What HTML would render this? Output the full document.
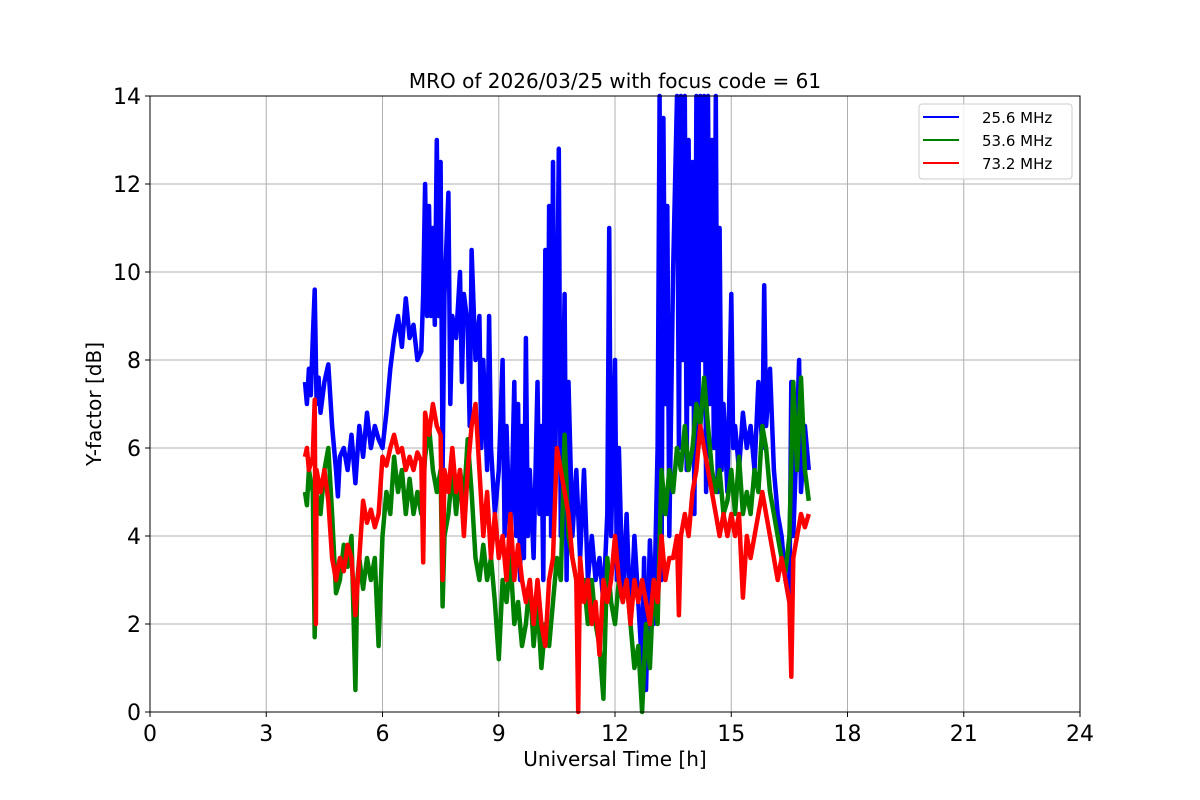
<!DOCTYPE html>
<html><head><meta charset="utf-8"><style>
body{margin:0;background:#fff}
svg{display:block;font-family:"DejaVu Sans","Liberation Sans",sans-serif}
</style></head><body>
<svg id="chart" width="1200" height="800">
<rect width="1200" height="800" fill="#fff"/>
<g id="grid"></g>
<g id="series"></g>
<rect x="150" y="96" width="930" height="616" fill="none" stroke="#000" stroke-width="1"/>
<g id="ticks"></g>
<text x="615" y="88" font-size="20" text-anchor="middle">MRO of 2026/03/25 with focus code = 61</text>
<text x="615" y="766" font-size="20" text-anchor="middle">Universal Time [h]</text>
<text x="101" y="404" font-size="20" text-anchor="middle" transform="rotate(-90 101 404)">Y-factor [dB]</text>
<g>
<rect x="919" y="104" width="153" height="75" rx="3" fill="#fff" fill-opacity="0.8" stroke="#ccc"/>
<line x1="923" y1="117" x2="959" y2="117" stroke="#0000ff" stroke-width="2"/>
<text x="982" y="123" font-size="15">25.6 MHz</text>
<line x1="923" y1="140" x2="959" y2="140" stroke="#008000" stroke-width="2"/>
<text x="982" y="146" font-size="15">53.6 MHz</text>
<line x1="923" y1="163" x2="959" y2="163" stroke="#ff0000" stroke-width="2"/>
<text x="982" y="169" font-size="15">73.2 MHz</text>
</g>
</svg>
<script>
const xTicks=[0,3,6,9,12,15,18,21,24];
const yTicks=[0,2,4,6,8,10,12,14];
const blueT=[4.0,4.05,4.1,4.15,4.2,4.25,4.3,4.35,4.4,4.5,4.6,4.7,4.8,4.85,4.9,5.0,5.1,5.2,5.3,5.4,5.5,5.6,5.7,5.8,5.9,6.0,6.1,6.2,6.3,6.4,6.5,6.6,6.7,6.8,6.9,7.0,7.05,7.1,7.15,7.2,7.25,7.3,7.35,7.4,7.45,7.5,7.55,7.6,7.7,7.75,7.8,7.9,8.0,8.05,8.1,8.2,8.25,8.3,8.4,8.5,8.55,8.6,8.7,8.75,8.8,8.9,9.0,9.1,9.15,9.2,9.3,9.4,9.45,9.5,9.55,9.6,9.65,9.7,9.75,9.8,9.9,10.0,10.05,10.1,10.15,10.2,10.25,10.3,10.35,10.4,10.45,10.5,10.55,10.6,10.7,10.75,10.8,10.9,11.0,11.1,11.2,11.3,11.4,11.5,11.6,11.7,11.8,11.85,11.9,12.0,12.05,12.1,12.2,12.3,12.4,12.5,12.6,12.7,12.75,12.8,12.9,13.0,13.1,13.15,13.2,13.25,13.3,13.35,13.4,13.5,13.6,13.65,13.7,13.75,13.8,13.85,13.9,13.95,14.0,14.05,14.1,14.15,14.2,14.25,14.3,14.35,14.4,14.45,14.5,14.55,14.6,14.65,14.7,14.75,14.8,14.9,15.0,15.05,15.1,15.2,15.3,15.4,15.5,15.6,15.7,15.8,15.85,15.9,16.0,16.1,16.2,16.3,16.4,16.5,16.55,16.6,16.7,16.75,16.8,16.9,17.0];
const blueV=[7.5,7.0,7.8,7.2,8.5,9.6,7.0,7.6,6.8,7.5,7.9,6.5,5.5,4.9,5.8,6.0,5.5,6.3,5.2,6.5,5.8,6.8,6.0,6.5,6.2,6.0,6.8,7.8,8.5,9.0,8.3,9.4,8.5,8.8,8.0,8.2,9.5,12.0,9.0,11.5,9.0,11.0,8.8,13.0,9.0,12.5,5.5,9.5,11.8,7.0,9.0,8.5,10.0,7.5,9.5,8.8,6.5,10.5,8.0,9.0,6.0,8.0,5.5,9.0,6.0,4.5,5.5,8.0,4.0,6.5,3.5,7.5,4.0,7.0,3.0,6.5,3.5,8.5,4.0,5.5,3.5,7.5,4.5,6.5,3.0,10.5,4.5,11.5,4.0,12.5,5.0,8.5,12.8,4.0,9.5,3.0,7.5,4.0,5.5,3.5,5.5,3.0,4.0,3.0,3.5,2.5,4.5,11.0,4.0,8.0,3.0,6.0,2.5,4.5,2.0,4.0,2.5,1.0,3.5,0.5,3.9,2.0,6.0,14,3.0,13.5,7.0,11.5,4.0,10.0,14,6.0,14,8.0,14,5.5,13,7.0,12.5,4.5,14,6.0,14,8.0,14,5.0,14,7.0,13,6.0,14,5.0,11.0,5.5,7.0,5.0,9.5,6.0,6.5,5.5,6.8,6.0,6.5,5.5,7.5,6.0,9.7,6.5,7.8,5.5,4.5,4.0,3.0,2.5,7.5,4.0,6.5,8.0,5.0,6.5,5.5];
const greenT=[4.0,4.05,4.1,4.2,4.25,4.3,4.4,4.5,4.6,4.7,4.8,4.9,5.0,5.1,5.2,5.3,5.35,5.4,5.5,5.6,5.7,5.8,5.9,6.0,6.1,6.2,6.3,6.4,6.5,6.6,6.7,6.8,6.9,7.0,7.1,7.2,7.3,7.4,7.5,7.55,7.6,7.7,7.8,7.9,8.0,8.1,8.2,8.3,8.4,8.5,8.6,8.7,8.8,8.9,9.0,9.1,9.2,9.3,9.4,9.5,9.6,9.7,9.8,9.9,10.0,10.1,10.2,10.3,10.4,10.5,10.6,10.7,10.8,10.9,11.0,11.1,11.2,11.3,11.4,11.5,11.6,11.7,11.8,11.9,12.0,12.1,12.2,12.3,12.4,12.5,12.6,12.7,12.8,12.9,13.0,13.1,13.2,13.3,13.4,13.5,13.6,13.7,13.8,13.9,14.0,14.1,14.2,14.3,14.4,14.5,14.6,14.7,14.8,14.9,15.0,15.1,15.2,15.3,15.4,15.5,15.6,15.7,15.8,15.9,16.0,16.1,16.2,16.3,16.4,16.5,16.6,16.7,16.8,16.9,17.0];
const greenV=[5.0,4.7,5.5,5.0,1.7,5.0,4.5,5.5,6.0,4.5,2.7,3.0,3.8,3.3,4.0,0.5,3.0,3.5,2.8,3.5,3.0,3.5,1.5,4.0,5.0,4.5,5.8,5.0,5.5,4.5,5.3,4.5,5.0,4.5,5.8,6.5,5.5,5.0,5.5,2.4,4.0,4.5,5.5,4.5,5.5,4.8,6.2,5.0,3.5,3.0,3.8,3.0,3.5,2.5,1.2,3.0,2.5,3.5,2.0,2.5,1.5,2.0,3.0,1.5,2.5,1.0,2.0,1.5,2.5,3.5,3.0,6.3,4.0,3.5,3.0,2.5,3.0,2.0,3.0,2.0,1.5,0.3,3.5,2.5,2.0,3.0,2.5,3.0,2.0,1.0,1.5,0.0,2.0,1.0,3.0,2.0,5.5,4.5,5.5,5.0,6.0,5.5,6.5,5.5,6.0,7.0,6.5,7.6,6.5,5.5,5.0,5.5,4.5,4.8,5.5,4.5,5.8,4.5,5.0,4.5,5.5,5.0,6.5,6.0,5.0,4.5,4.0,3.5,3.2,4.0,7.5,5.5,7.6,5.5,4.8];
const redT=[4.0,4.05,4.1,4.2,4.25,4.28,4.3,4.4,4.5,4.6,4.7,4.8,4.9,5.0,5.1,5.2,5.3,5.4,5.5,5.6,5.7,5.8,5.9,6.0,6.1,6.2,6.3,6.4,6.5,6.6,6.7,6.8,6.9,7.0,7.05,7.1,7.2,7.3,7.4,7.5,7.55,7.6,7.7,7.8,7.9,8.0,8.1,8.2,8.3,8.4,8.5,8.6,8.7,8.8,8.9,9.0,9.1,9.2,9.3,9.4,9.5,9.6,9.7,9.8,9.9,10.0,10.1,10.2,10.3,10.4,10.5,10.6,10.7,10.8,10.9,11.0,11.05,11.1,11.2,11.3,11.4,11.5,11.6,11.7,11.8,11.9,12.0,12.1,12.2,12.3,12.4,12.5,12.6,12.7,12.8,12.9,13.0,13.1,13.2,13.3,13.4,13.5,13.6,13.65,13.7,13.8,13.9,14.0,14.1,14.2,14.3,14.4,14.5,14.6,14.7,14.8,14.9,15.0,15.1,15.2,15.3,15.4,15.5,15.6,15.7,15.8,15.9,16.0,16.1,16.2,16.3,16.4,16.5,16.55,16.6,16.7,16.8,16.9,17.0];
const redV=[5.8,6.0,5.5,5.8,7.1,2.0,5.5,5.0,5.5,4.8,3.5,3.0,3.5,3.2,3.8,3.5,2.2,3.5,4.8,4.3,4.6,4.2,4.5,5.8,5.6,6.0,6.3,5.9,6.0,5.5,5.8,5.5,5.9,5.7,3.4,6.8,6.3,7.0,6.5,6.3,3.0,5.5,5.0,6.0,5.0,5.5,4.0,5.5,6.5,7.0,5.5,4.0,5.0,3.5,4.5,3.5,4.0,3.0,4.5,3.0,3.8,3.0,2.5,3.0,2.0,3.0,2.0,1.5,3.0,3.5,6.0,5.5,5.0,4.5,3.5,3.0,0.0,3.5,2.5,3.0,2.0,2.5,1.3,3.0,2.5,3.0,4.0,3.0,2.5,3.0,2.0,3.0,2.5,3.0,2.5,2.0,3.0,2.5,4.0,3.0,3.5,3.5,4.0,2.2,4.0,4.5,4.0,5.0,5.5,6.5,6.0,5.5,5.0,4.5,4.0,4.5,4.0,4.5,4.0,4.5,2.6,4.0,3.5,4.0,4.5,5.0,4.5,4.0,3.5,3.0,3.5,3.0,2.5,0.8,3.5,4.0,4.5,4.2,4.5];
const NS='http://www.w3.org/2000/svg';
const X0=150,X1=1080,Y0=712,Y1=96;
function sx(t){return X0+(t-0)/(24-0)*(X1-X0);}
function sy(v){return Y0-(v-0)/(14-0)*(Y0-Y1);}
const grid=document.getElementById('grid'),ticks=document.getElementById('ticks'),ser=document.getElementById('series');
function mk(tag,attrs,parent){const e=document.createElementNS(NS,tag);for(const k in attrs)e.setAttribute(k,attrs[k]);parent.appendChild(e);return e;}
xTicks.forEach(t=>{const x=sx(t);
const g=mk('line',{x1:x,y1:Y1,x2:x,y2:Y0,stroke:'#b0b0b0','stroke-width':1},grid);


const tk=mk('line',{x1:x,y1:Y0,x2:x,y2:Y0+5,stroke:'#000'},ticks);


const lb=mk('text',{x:x,y:Y0+29,'font-size':22,'text-anchor':'middle'},ticks);lb.textContent=t;


});
yTicks.forEach(v=>{const y=sy(v);
const g=mk('line',{x1:X0,y1:y,x2:X1,y2:y,stroke:'#b0b0b0','stroke-width':1},grid);


const tk=mk('line',{x1:X0-5,y1:y,x2:X0,y2:y,stroke:'#000'},ticks);


const lb=mk('text',{x:X0-9,y:y+8,'font-size':22,'text-anchor':'end'},ticks);lb.textContent=v;


});
function draw(T,V,color,name){
const pts=T.map((t,i)=>sx(t).toFixed(1)+','+sy(Math.min(14,V[i])).toFixed(1)).join(' ');
const p=mk('polyline',{points:pts,fill:'none',stroke:color,'stroke-width':4.5,'stroke-linejoin':'round'},ser);


}
draw(blueT,blueV,'#0000ff','series-25-6-mhz');
draw(greenT,greenV,'#008000','series-53-6-mhz');
draw(redT,redV,'#ff0000','series-73-2-mhz');
</script>
</body></html>
